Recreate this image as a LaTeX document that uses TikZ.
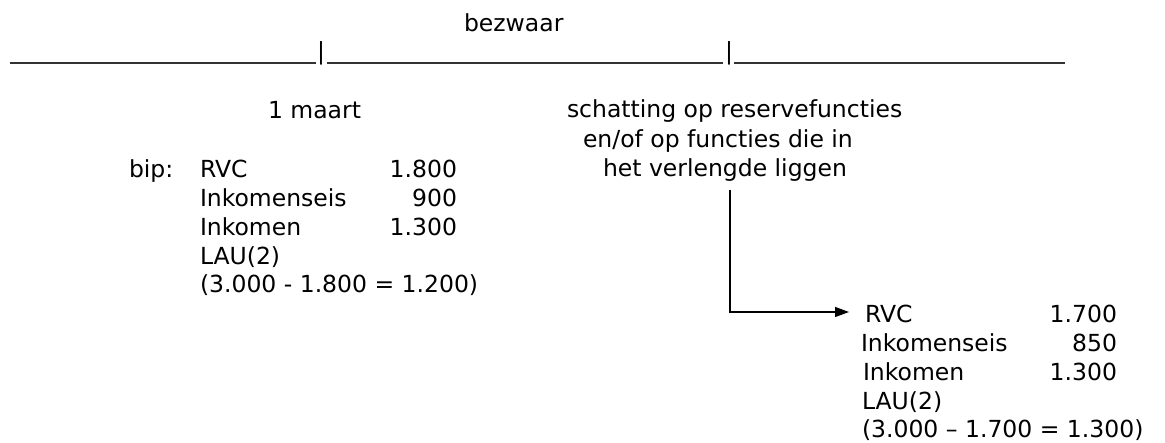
\documentclass[tikz,border=0pt]{standalone}
\usepackage{fontspec}
\setmainfont{DejaVu Sans}
\usetikzlibrary{arrows.meta}
\begin{document}
\begin{tikzpicture}[x=1pt,y=-1pt,
  txt/.style={inner sep=0pt,outer sep=0pt,text=black,font=\fontsize{23.5}{28.6}\selectfont},
  lw/.style={txt,anchor=base west},
  le/.style={txt,anchor=base east},
  bar/.style={txt,anchor=base},
  rulel/.style={line width=1.3pt,black!80},
  conn/.style={line width=1.3pt,black,-{Triangle[length=14pt,width=10pt]}}]
\useasboundingbox (0,0) rectangle (1165,443);
% top timeline
\node[lw] (bez) at (464,32) {bezwaar};
\coordinate (l1a) at (10,63);
\coordinate (l1b) at (316,63);
\coordinate (l2a) at (327,63);
\coordinate (l2b) at (723,63);
\coordinate (l3a) at (734,63);
\coordinate (l3b) at (1065,63);
\draw[rulel] (l1a) -- (l1b);
\draw[rulel] (l2a) -- (l2b);
\draw[rulel] (l3a) -- (l3b);
\node[bar] (p1) at (321,59.5) {|};
\node[bar] (p2) at (729,59.5) {|};
% left block
\node[lw] (maart) at (268,119) {1 maart};
\node[lw] (bip) at (129,178) {bip:};
\node[lw] (rvcA) at (200,178) {RVC};
\node[le] (rvcAv) at (457,178) {1.800};
\node[lw] (eisA) at (200,206.7) {Inkomenseis};
\node[le] (eisAv) at (457,206.7) {900};
\node[lw] (inkA) at (200,235.4) {Inkomen};
\node[le] (inkAv) at (457,235.4) {1.300};
\node[lw] (lauA) at (200,264.1) {LAU(2)};
\node[lw] (calcA) at (200,292.8) {(3.000 - 1.800 = 1.200)};
% right text
\node[lw] (sch1) at (567,118) {schatting op reservefuncties};
\node[lw] (sch2) at (583,148) {en/of op functies die in};
\node[lw] (sch3) at (603,177) {het verlengde liggen};
% connector
\coordinate (ctop) at (730,190);
\coordinate (tip) at (849,312);
\draw[conn] (ctop) |- (tip);
% right block
\node[lw] (rvcB) at (865,323) {RVC};
\node[le] (rvcBv) at (1117,323) {1.700};
\node[lw] (eisB) at (861,351.7) {Inkomenseis};
\node[le] (eisBv) at (1117,351.7) {850};
\node[lw] (inkB) at (863,380.4) {Inkomen};
\node[le] (inkBv) at (1117,380.4) {1.300};
\node[lw] (lauB) at (862,409.1) {LAU(2)};
\node[lw] (calcB) at (862,437.8) {(3.000 – 1.700 = 1.300)};
\end{tikzpicture}
\end{document}
